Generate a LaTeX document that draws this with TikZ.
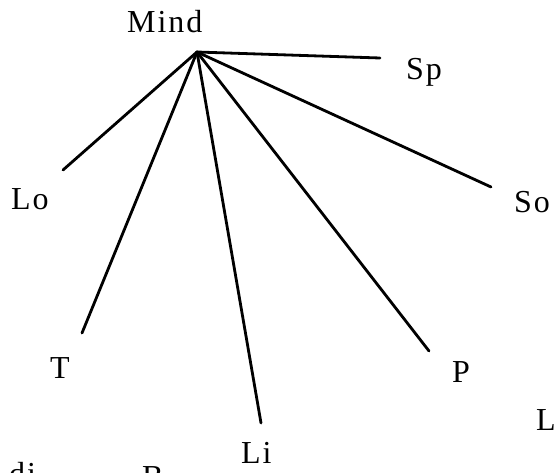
\documentclass[tikz,border=0pt]{standalone}
\usepackage{fontspec}
\setmainfont{Liberation Serif}[LetterSpace=6]
\usepackage{tikz}
\usetikzlibrary{positioning, calc}

\tikzset{
  label text/.style={anchor=base west, inner sep=0pt, font=\fontsize{32}{38}\selectfont},
  spoke/.style={line width=2.8pt, line cap=round}
}

\begin{document}
\begin{tikzpicture}[x=1pt, y=-1pt]
    \path[use as bounding box, clip] (0,0) rectangle (554,473);

    % hub and free ends of the spokes
    \coordinate (hub) at (197,52);
    \coordinate (spEnd) at (380,58);
    \coordinate (loEnd) at (63,170);
    \coordinate (soEnd) at (491,187);
    \coordinate (tEnd) at (82,333);
    \coordinate (liEnd) at (261,423);
    \coordinate (pEnd) at (429,351);

    \node[label text] (mind) at (127,33) {Mind};
    \node[label text] (sp) at (406,80) {Sp};
    \node[label text] (lo) at (11,210) {Lo};
    \node[label text] (so) at (514,213) {So};
    \node[label text] (t) at (50,378) {T};
    \node[label text] (li) at (241,463) {Li};
    \node[label text] (p) at (452,382) {P};
    \node[label text] (l) at (536,430) {L};
    \node[label text] (di) at (9,484) {di};
    \node[label text] (b) at (142,487) {B};

    \foreach \e in {spEnd, loEnd, soEnd, tEnd, liEnd, pEnd}
      \draw[spoke] (hub) -- (\e);
  \end{tikzpicture}
\end{document}
